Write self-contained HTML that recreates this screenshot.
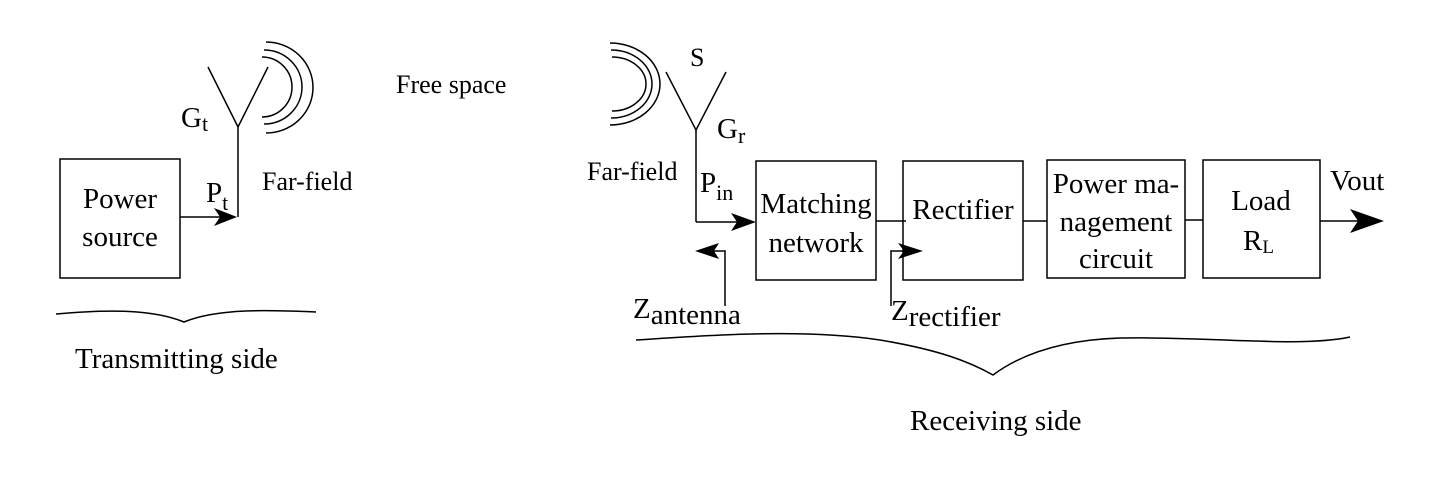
<!DOCTYPE html>
<html><head><meta charset="utf-8"><style>
html,body{margin:0;padding:0;background:#fff;}
svg{display:block;}
text{font-family:"Liberation Serif",serif;fill:#000;}
</style></head><body>
<svg width="1432" height="492" viewBox="0 0 1432 492" xmlns="http://www.w3.org/2000/svg">
<g stroke="#000" stroke-width="1.5" fill="none">
<!-- Transmitter -->
<rect x="60" y="159" width="120" height="119"/>
<line x1="180" y1="217" x2="228" y2="217"/>
<line x1="238" y1="217" x2="238" y2="127"/>
<polyline points="208,67 238,127 268,67"/>
<path d="M262,57 A30,30 0 0 1 262,117"/>
<path d="M264,50 A38,37 0 0 1 264,124"/>
<path d="M266,42 A47,45.5 0 0 1 266,133"/>
<path d="M56,314 C100,310 150,308 184,322 C218,308 270,310 316,312"/>
<!-- Receiver -->
<path d="M612,57 A34,27 0 0 1 612,111"/>
<path d="M611,50 A41,34 0 0 1 611,118"/>
<path d="M610,43 A50,41 0 0 1 610,125"/>
<polyline points="666,72 696,130 726,72"/>
<line x1="696" y1="130" x2="696" y2="222"/>
<line x1="696" y1="222" x2="748" y2="222"/>
<rect x="756" y="161" width="120" height="119"/>
<rect x="903" y="161" width="120" height="119"/>
<rect x="1047" y="160" width="138" height="118"/>
<rect x="1203" y="160" width="117" height="118"/>
<line x1="876" y1="221" x2="906" y2="221"/>
<line x1="1023" y1="221" x2="1047" y2="221"/>
<line x1="1185" y1="220" x2="1203" y2="220"/>
<line x1="1320" y1="221" x2="1372" y2="221"/>
<polyline points="725,306 725,251 705,251"/>
<polyline points="891,306 891,251 914,251"/>
<path d="M636,340 C700,336 800,328 880,340 C940,350 970,362 993,375 C1020,355 1060,340 1120,338 C1200,336 1300,348 1350,337"/>
</g>
<g fill="#000">
<polygon points="237,217 214,208 220,217 214,226"/>
<polygon points="756,222 731,213 737,222 731,231"/>
<polygon points="695,251 719,243 714,251 719,259"/>
<polygon points="923,251 898,243 904,251 898,259"/>
<polygon points="1384,221 1350,209 1358,221 1350,233"/>
</g>
<g font-size="29">
<text x="120" y="208" text-anchor="middle">Power</text>
<text x="120" y="246" text-anchor="middle">source</text>
<text x="181" y="127">G<tspan font-size="22" dy="4">t</tspan></text>
<text x="206" y="202">P<tspan font-size="22" dy="8">t</tspan></text>
<text x="262" y="190" font-size="26">Far-field</text>
<text x="396" y="93" font-size="26">Free space</text>
<text x="75" y="368">Transmitting side</text>
<text x="587" y="180" font-size="26">Far-field</text>
<text x="690" y="66" font-size="26">S</text>
<text x="717" y="138">G<tspan font-size="22" dy="5">r</tspan></text>
<text x="700" y="192">P<tspan font-size="22" dy="8">in</tspan></text>
<text x="816" y="213" text-anchor="middle">Matching</text>
<text x="816" y="252" text-anchor="middle">network</text>
<text x="963" y="219" text-anchor="middle">Rectifier</text>
<text x="1116" y="193" text-anchor="middle">Power ma-</text>
<text x="1116" y="231" text-anchor="middle">nagement</text>
<text x="1116" y="268" text-anchor="middle">circuit</text>
<text x="1261" y="210" text-anchor="middle">Load</text>
<text x="1243" y="250">R<tspan font-size="19" dy="3">L</tspan></text>
<text x="1330" y="190">Vout</text>
<text x="633" y="318">Z<tspan dy="6">antenna</tspan></text>
<text x="891" y="320">Z<tspan dy="6">rectifier</tspan></text>
<text x="910" y="430">Receiving side</text>
</g>
</svg>
</body></html>
